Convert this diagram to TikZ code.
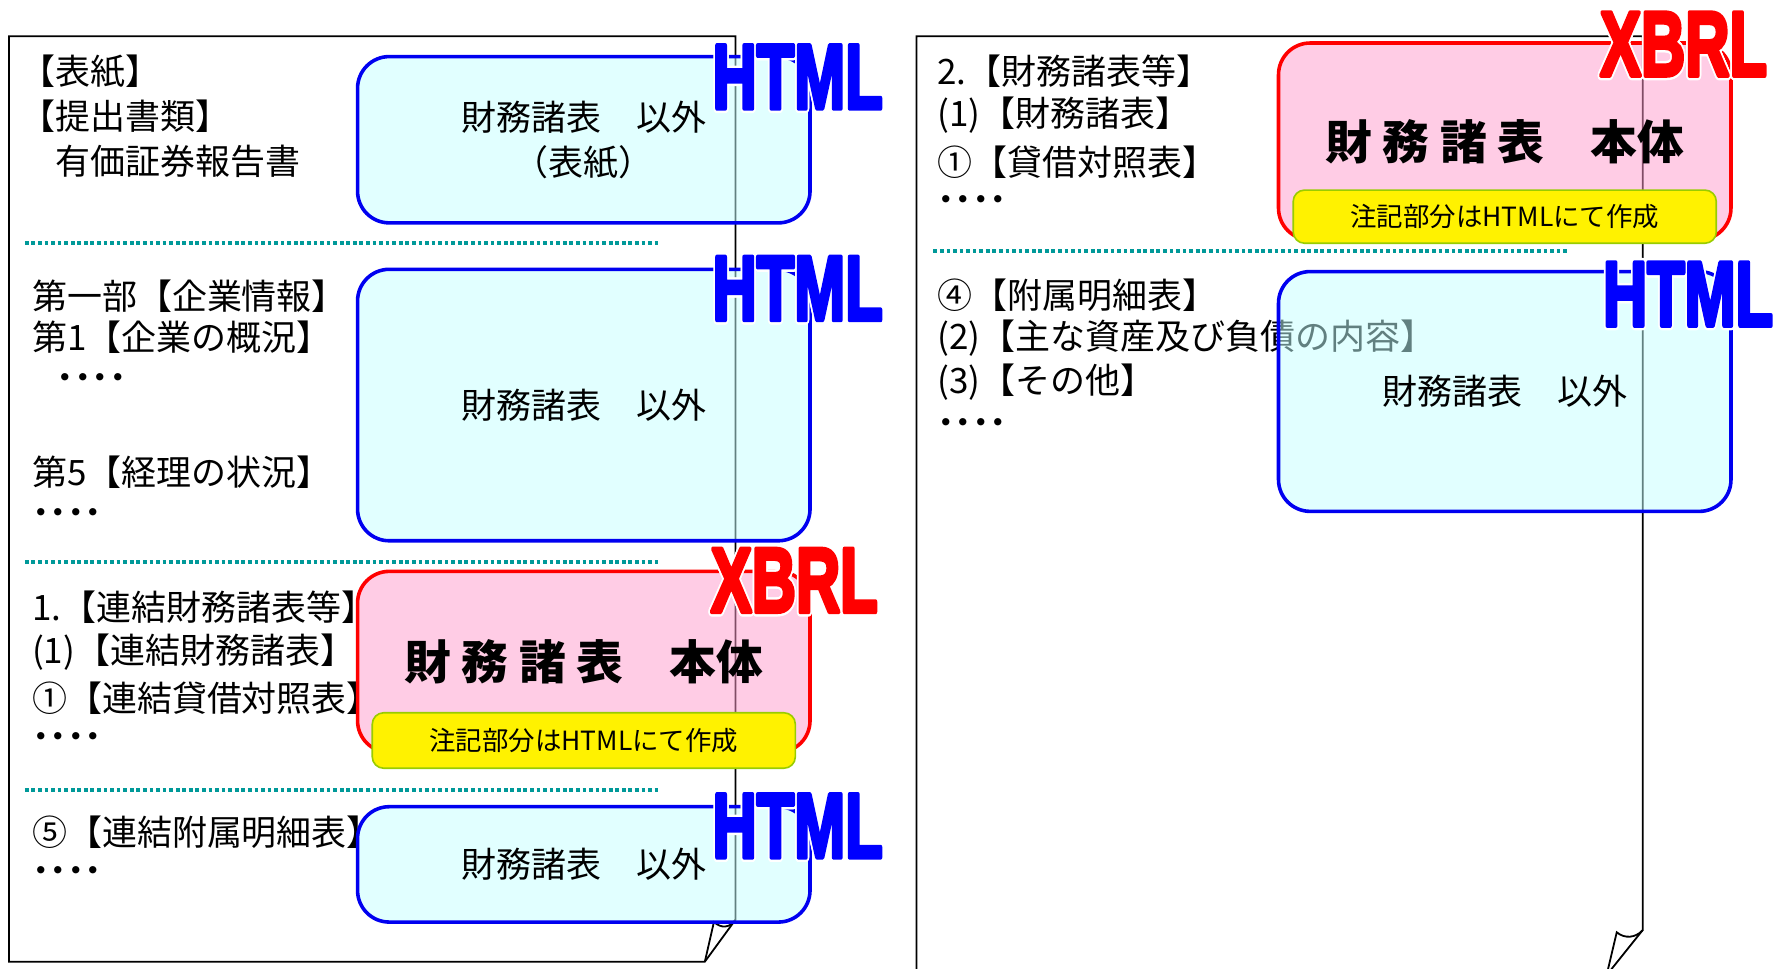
\documentclass[tikz,border=0pt]{standalone}
\usepackage{fontspec}
\usepackage{contour}
\setmainfont{Noto Sans CJK JP}
\newfontfamily\tagfamily{Liberation Sans}[BoldFeatures={FakeBold=5}]

\definecolor{boxblue}{RGB}{0,0,240}
\definecolor{tagblue}{RGB}{0,0,255}
\definecolor{htmlfill}{RGB}{195,255,255}
\definecolor{xbrlfill}{RGB}{255,153,203}
\definecolor{notegreen}{RGB}{153,204,0}
\definecolor{dotteal}{RGB}{0,153,153}

\contourlength{1.2pt}
\newcommand{\tagtext}[1]{\scalebox{.67}[1]{\contour{white}{#1}}}

\tikzset{
  pageline/.style={line width=0.9pt, black},
  dotsep/.style={draw=dotteal, line width=0.066cm, dash pattern=on 0.066cm off 0.05cm},
  entry/.style={anchor=west, inner sep=0pt, font=\fontsize{17.6}{22.7}\selectfont},
  htmlbox/.style={draw=boxblue, line width=1.8pt, fill=htmlfill, fill opacity=.5,
    text opacity=1, rounded corners=0.56cm, minimum width=8cm, align=center,
    font=\fontsize{17.6}{22.7}\selectfont},
  xbrlbox/.style={htmlbox, draw=red, fill=xbrlfill, font=\fontsize{23.5}{28}\selectfont\bfseries},
  notebox/.style={draw=notegreen, line width=0.8pt, fill=yellow, rounded corners=0.2cm,
    minimum width=7.48cm, font=\fontsize{13.3}{16}\selectfont},
  htmltag/.style={text=tagblue, inner sep=0pt, line join=round,
    font=\tagfamily\bfseries\fontsize{46}{46}\selectfont},
  xbrltag/.style={htmltag, text=red},
}

\begin{document}
\begin{tikzpicture}[x=0.02cm, y=-0.02cm]
  \useasboundingbox (0,0) rectangle (1568,856);

  % pages
  \draw[pageline] (650,813) -- (650,32) -- (8,32) -- (8,850) -- (623,850) -- cycle;
  \draw[pageline] (623,850) -- (631,815) .. controls (638,821) and (645,820) .. (650,813);
  \draw[pageline] (810,870) -- (810,32) -- (1452,32) -- (1452,822) -- (1420,862);
  \draw[pageline] (1420,862) -- (1429,824) .. controls (1436,830) and (1446,829) .. (1452,822);

  % left page
  \node[entry] (cover) at (18,63) {【表紙】};
  \node[entry] (doctype) at (18,103) {【提出書類】};
  \node[entry] (report) at (18,143) {　有価証券報告書};
  \node[entry] (part1) at (28,262) {第一部【企業情報】};
  \node[entry] (sec1) at (28,298) {第1【企業の概況】};
  \node[entry] (dotsa) at (50,338) {\bfseries ････};
  \node[entry] (sec5) at (28,417) {第5【経理の状況】};
  \node[entry] (dotsb) at (28,457) {\bfseries ････};
  \node[entry] (consol) at (28,537) {1.【連結財務諸表等】};
  \node[entry] (consfs) at (28,576) {(1)【連結財務諸表】};
  \node[entry] (consbs) at (28,617) {①【連結貸借対照表】};
  \node[entry] (dotsc) at (28,655) {\bfseries ････};
  \node[entry] (consann) at (28,736) {⑤【連結附属明細表】};
  \node[entry] (dotsd) at (28,773) {\bfseries ････};

  % right page
  \node[entry] (single) at (828,63) {2.【財務諸表等】};
  \node[entry] (singfs) at (828,102) {(1)【財務諸表】};
  \node[entry] (singbs) at (828,143) {①【貸借対照表】};
  \node[entry] (dotse) at (828,180) {\bfseries ････};
  \node[entry] (singann) at (828,261) {④【附属明細表】};
  \node[entry] (assets) at (828,299) {(2)【主な資産及び負債の内容】};
  \node[entry] (other) at (828,338) {(3)【その他】};
  \node[entry] (dotsf) at (828,377) {\bfseries ････};

  \foreach \y in {215,497,698}
    \draw[dotsep] (22,\y) -- (583,\y);
  \draw[dotsep] (825,222) -- (1385,222);

  % boxes
  \node[htmlbox, minimum height=2.94cm] (box1) at (516,123.5) {財務諸表　以外\\（表紙）};
  \node[htmlbox, minimum height=4.8cm] (box2) at (516,358) {財務諸表　以外};
  \node[xbrlbox, minimum height=3.2cm] (box3) at (516,585) {財 務 諸 表　本体};
  \node[htmlbox, minimum height=2.04cm] (box4) at (516,764) {財務諸表　以外};
  \node[xbrlbox, minimum height=3.48cm] (box5) at (1330,125) {財 務 諸 表　本体};
  \node[htmlbox, minimum height=4.24cm] (box6) at (1330,346) {財務諸表　以外};

  \node[notebox, minimum height=0.98cm] (note3) at (516,654.5) {注記部分はHTMLにて作成};
  \node[notebox, minimum height=0.94cm] (note5) at (1330,191.5) {注記部分はHTMLにて作成};

  % format tags
  \node[htmltag] (tag1) at (705,69) {\tagtext{HTML}};
  \node[htmltag] (tag2) at (705,256) {\tagtext{HTML}};
  \node[xbrltag] (tag3) at (702,514) {\tagtext{XBRL}};
  \node[htmltag] (tag4) at (705,731) {\tagtext{HTML}};
  \node[xbrltag] (tag5) at (1488,40) {\tagtext{XBRL}};
  \node[htmltag] (tag6) at (1492,261) {\tagtext{HTML}};
\end{tikzpicture}
\end{document}
